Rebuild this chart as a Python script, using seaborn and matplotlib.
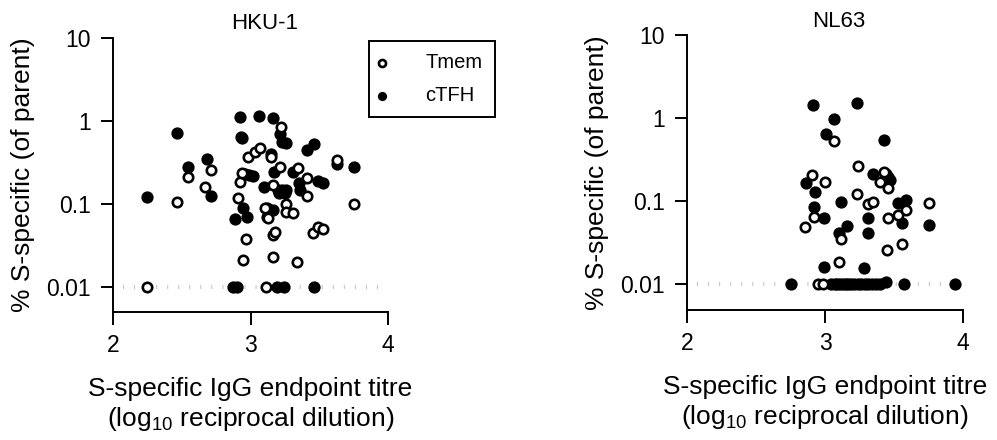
import numpy as np
import pandas as pd
import matplotlib
matplotlib.use("Agg")
import matplotlib.pyplot as plt
import seaborn as sns

# HKU-1 panel
hku_tmem_x = [2.245, 2.463, 2.548, 2.71, 2.67, 2.91, 2.97, 2.943, 3.166, 3.34,
              3.113, 3.166, 3.18, 3.457, 3.49, 3.53, 3.75, 3.63, 3.22, 3.215,
              3.348, 3.41, 3.41, 3.26, 3.26, 3.31, 3.13, 3.105, 2.92, 2.94,
              2.984, 3.033, 3.069, 3.15, 3.166]
hku_tmem_y = [0.01, 0.105, 0.21, 0.255, 0.16, 0.117, 0.038, 0.021, 0.023, 0.0197,
              0.01, 0.042, 0.046, 0.044, 0.053, 0.05, 0.10, 0.34, 0.84, 0.28,
              0.27, 0.206, 0.124, 0.10, 0.079, 0.077, 0.068, 0.088, 0.185, 0.235,
              0.37, 0.42, 0.47, 0.37, 0.168]
hku_tfh_x = [2.245, 2.463, 2.548, 2.681, 2.71, 2.92, 3.06, 3.16, 2.93, 2.94,
             3.215, 3.23, 3.26, 3.41, 3.46, 3.15, 3.63, 3.75, 2.96, 2.99,
             3.02, 3.17, 3.31, 3.35, 3.49, 3.53, 3.10, 3.20, 3.23, 3.26,
             3.21, 3.25, 3.36, 2.948, 2.977, 2.887, 3.12, 3.16, 3.118,
             2.875, 2.90, 3.19, 3.24, 3.46]
hku_tfh_y = [0.12, 0.72, 0.28, 0.35, 0.124, 1.1, 1.13, 1.07, 0.64, 0.62,
             0.70, 0.56, 0.54, 0.44, 0.52, 0.40, 0.30, 0.28, 0.23, 0.22,
             0.215, 0.24, 0.24, 0.18, 0.19, 0.177, 0.16, 0.146, 0.146, 0.146,
             0.135, 0.133, 0.146, 0.088, 0.07, 0.065, 0.088, 0.084, 0.07,
             0.01, 0.01, 0.01, 0.01, 0.01]

# NL63 panel
nl_tmem_x = [3.067, 3.236, 2.905, 3.0, 3.425, 3.40, 3.46, 3.23, 3.31, 3.35,
             2.917, 2.855, 3.115, 3.098, 3.45, 3.56, 3.455, 3.53, 3.59, 3.75,
             2.95, 2.985]
nl_tmem_y = [0.53, 0.266, 0.206, 0.168, 0.225, 0.171, 0.142, 0.121, 0.092, 0.096,
             0.065, 0.048, 0.0345, 0.0186, 0.026, 0.030, 0.062, 0.068, 0.079, 0.094,
             0.01, 0.01]
nl_tfh_x = [2.912, 3.23, 3.067, 3.009, 3.43, 2.86, 2.93, 3.35, 3.44, 3.47,
            3.46, 3.115, 2.917, 2.99, 3.31, 3.31, 3.10, 3.16, 3.53, 3.59,
            3.56, 3.75, 2.99, 3.28,
            2.75, 3.04, 3.07, 3.09, 3.11, 3.13, 3.15, 3.17, 3.19, 3.21,
            3.24, 3.26, 3.29, 3.31, 3.34, 3.37, 3.40, 3.44, 3.57, 3.94]
nl_tfh_y = [1.44, 1.53, 0.96, 0.64, 0.55, 0.163, 0.129, 0.21, 0.21, 0.18,
            0.195, 0.098, 0.085, 0.062, 0.062, 0.0415, 0.041, 0.05, 0.094, 0.103,
            0.055, 0.051, 0.0162, 0.0155,
            0.01, 0.01, 0.01, 0.01, 0.01, 0.01, 0.01, 0.01, 0.01, 0.01,
            0.01, 0.01, 0.01, 0.01, 0.01, 0.01, 0.01, 0.0105, 0.01, 0.01]

titles = ["HKU-1", "NL63"]
y_ticks = [0.01, 0.1, 1, 10]
y_ticklabels = ["0.01", "0.1", "1", "10"]
x_ticks = [2, 3, 4]

sns.set_style("ticks")
plt.rcParams["font.family"] = ["Liberation Sans", "DejaVu Sans"]
plt.rcParams["mathtext.fontset"] = "custom"
plt.rcParams["mathtext.rm"] = "Liberation Sans"
plt.rcParams["mathtext.it"] = "Liberation Sans:italic"
for key in ["text.color", "axes.labelcolor", "xtick.color", "ytick.color",
            "axes.edgecolor"]:
    plt.rcParams[key] = "black"

fig = plt.figure(figsize=(9.97, 4.40), dpi=100)
ax1 = fig.add_axes([113 / 997, 1 - 312 / 440, 275 / 997, 274.3 / 440])
ax2 = fig.add_axes([687 / 997, 1 - 310 / 440, 276 / 997, 275 / 440])

panels = [
    (ax1, hku_tmem_x, hku_tmem_y, hku_tfh_x, hku_tfh_y, 10 ** -2.305),
    (ax2, nl_tmem_x, nl_tmem_y, nl_tfh_x, nl_tfh_y, 10 ** -2.313),
]

for i, (ax, tx, ty, fx, fy, ybot) in enumerate(panels):
    df_t = pd.DataFrame({"titre": tx, "pct": ty})
    df_f = pd.DataFrame({"titre": fx, "pct": fy})

    # detection limit line
    ax.hlines(0.01, 2.07, 3.97, colors="#c4c4c4", linewidth=3,
              linestyles=(0, (0.25, 2.4)), zorder=1)

    sns.scatterplot(data=df_f, x="titre", y="pct", ax=ax, s=78,
                    color="black", edgecolor="black", linewidth=0,
                    label="cTFH", zorder=3)
    sns.scatterplot(data=df_t, x="titre", y="pct", ax=ax, s=46,
                    color="white", edgecolor="black", linewidth=1.9,
                    label="Tmem", zorder=4)

    ax.set_yscale("log")
    ax.set_ylim(ybot, 10)
    ax.set_xlim(2, 4)
    ax.set_yticks(y_ticks)
    ax.set_yticklabels(y_ticklabels)
    ax.minorticks_off()
    ax.set_xticks(x_ticks)
    ax.set_xticklabels([str(t) for t in x_ticks])
    ax.tick_params(axis="both", labelsize=16.5, width=1.4, length=9,
                   pad=7, color="black", labelcolor="black")
    for side in ["top", "right"]:
        ax.spines[side].set_visible(False)
    for side in ["left", "bottom"]:
        ax.spines[side].set_linewidth(1.4)
        ax.spines[side].set_color("black")

    ax.set_xlabel("S-specific IgG endpoint titre\n(log$_{\\mathregular{10}}$ reciprocal dilution)",
                  fontsize=19, labelpad=14)
    ax.set_ylabel("% S-specific (of parent)", fontsize=19, labelpad=8)
    ax.set_title(titles[i], fontsize=16, x=0.55, pad=6)

    if i == 0:
        h, l = ax.get_legend_handles_labels()
        order = [l.index("Tmem"), l.index("cTFH")]
        leg = ax.legend([h[k] for k in order], [l[k] for k in order],
                        loc="upper left", bbox_to_anchor=(369 / 997, 1 - 41 / 440),
                        bbox_transform=fig.transFigure, fontsize=14.5,
                        frameon=True, fancybox=False, framealpha=1,
                        edgecolor="black", borderpad=0.6, handlelength=0.1,
                        handletextpad=2.1, labelspacing=0.7, markerscale=0.75,
                        borderaxespad=0)
        leg.get_frame().set_linewidth(1.4)
    else:
        if ax.get_legend() is not None:
            ax.get_legend().remove()

fig.savefig("out.png", dpi=100)
